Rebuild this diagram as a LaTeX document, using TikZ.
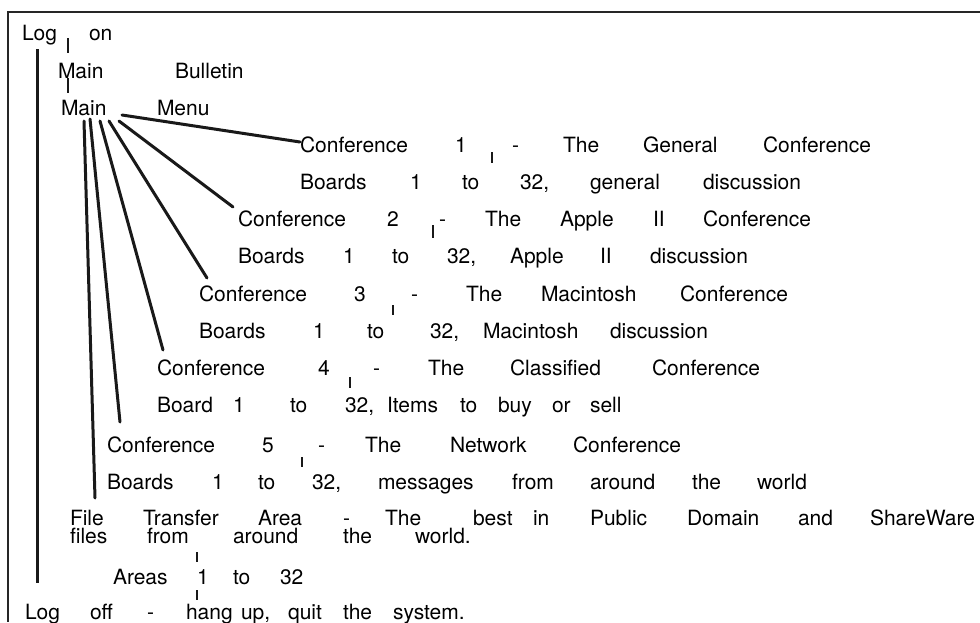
\documentclass[tikz,border=0pt]{standalone}
\usepackage{fontspec}
\setmainfont{TeX Gyre Heros}
\tikzset{
  word/.style={anchor=base west, inner sep=0pt, outer sep=0pt, font=\fontsize{21}{25}\selectfont},
  frameline/.style={line width=2.6pt, black!85},
  fan/.style={line width=3pt, black!90, line cap=round},
  tick/.style={line width=2.2pt, black!90},
  vline/.style={line width=3pt, black!90}
}
\newcommand{\wline}[3]{%
  \foreach \x/\w [count=\i] in {#3} {\node[word] (#1-\i) at (\x,#2) {\w};}%
}
\begin{document}
\begin{tikzpicture}[x=1pt,y=-1pt]
\useasboundingbox (0,0) rectangle (980,622);
\fill[white] (0,0) rectangle (980,622);
% frame
\coordinate (fr1) at (980,12);
\coordinate (fr2) at (8,12);
\coordinate (fr3) at (8,622);
\draw[frameline] (fr1) -- (fr2) -- (fr3);

% text lines
\wline{lon}{40}{22/Log, 89/on}
\wline{mb}{78}{58/Main, 175/Bulletin}
\wline{mm}{115}{61/Main, 157/Menu}
\wline{ca}{152}{300/Conference, 455/1, 512/-, 563/The, 643/General, 763/Conference}
\wline{ba}{189}{300/Boards, 410/1, 462/to, 520/{32,}, 590/general, 703/discussion}
\wline{cb}{226}{238/Conference, 387/2, 439/-, 485/The, 560/Apple, 653/II, 703/Conference}
\wline{bb}{263}{238/Boards, 343/1, 392/to, 447/{32,}, 510/Apple, 600/II, 650/discussion}
\wline{cc}{301}{199/Conference, 354/3, 411/-, 466/The, 541/Macintosh, 680/Conference}
\wline{bc}{338}{199/Boards, 313/1, 367/to, 430/{32,}, 483/Macintosh, 610/discussion}
\wline{cd}{375}{157/Conference, 318/4, 373/-, 428/The, 510/Classified, 652/Conference}
\wline{bd}{412}{157/Board, 233/1, 290/to, 345/{32,}, 387/Items, 460/to, 498/buy, 552/or, 590/sell}
\wline{ce}{452}{107/Conference, 262/5, 318/-, 365/The, 450/Network, 573/Conference}
\wline{be}{489}{107/Boards, 212/1, 258/to, 312/{32,}, 378/messages, 512/from, 590/around, 692/the, 757/world}
\wline{ft}{525}{70/File, 143/Transfer, 258/Area, 343/-, 385/The, 473/best, 533/in, 590/Public, 687/Domain, 798/and, 870/ShareWare}
\wline{fs}{543}{70/files, 147/from, 233/around, 343/the, 415/{world.}}
\wline{ar}{584}{113/Areas, 197/1, 233/to, 280/32}
\wline{lo}{619}{25/Log, 90/off, 147/-, 186/hang, 241/{up,}, 288/quit, 343/the, 393/{system.}}

% connector end points
\coordinate (t1a) at (68,38);  \coordinate (t1b) at (68,53);
\coordinate (t2a) at (68,78);  \coordinate (t2b) at (68,93);
\coordinate (lg1) at (37,49);  \coordinate (lg2) at (37,583);
\coordinate (f1a) at (122,115); \coordinate (f1b) at (300,142);
\coordinate (f2a) at (119,121); \coordinate (f2b) at (233,207);
\coordinate (f3a) at (109,121); \coordinate (f3b) at (207,278);
\coordinate (f4a) at (100,121); \coordinate (f4b) at (163,350);
\coordinate (f5a) at (90,119);  \coordinate (f5b) at (120,422);
\coordinate (f6a) at (84,121);  \coordinate (f6b) at (95,498);
\coordinate (k1a) at (492,152); \coordinate (k1b) at (492,163);
\coordinate (k2a) at (433,225); \coordinate (k2b) at (433,238);
\coordinate (k3a) at (393,305); \coordinate (k3b) at (393,315);
\coordinate (k4a) at (350,377); \coordinate (k4b) at (350,388);
\coordinate (k5a) at (302,457); \coordinate (k5b) at (302,467);
\coordinate (k6a) at (197,552); \coordinate (k6b) at (197,562);
\coordinate (k7a) at (197,590); \coordinate (k7b) at (197,600);

% connectors
\draw[tick] (t1a) -- (t1b);
\draw[tick] (t2a) -- (t2b);
\draw[vline] (lg1) -- (lg2);
\draw[fan] (f1a) -- (f1b);
\draw[fan] (f2a) -- (f2b);
\draw[fan] (f3a) -- (f3b);
\draw[fan] (f4a) -- (f4b);
\draw[fan] (f5a) -- (f5b);
\draw[fan] (f6a) -- (f6b);
\foreach \k in {1,...,7} {\draw[tick] (k\k a) -- (k\k b);}
\end{tikzpicture}
\end{document}
